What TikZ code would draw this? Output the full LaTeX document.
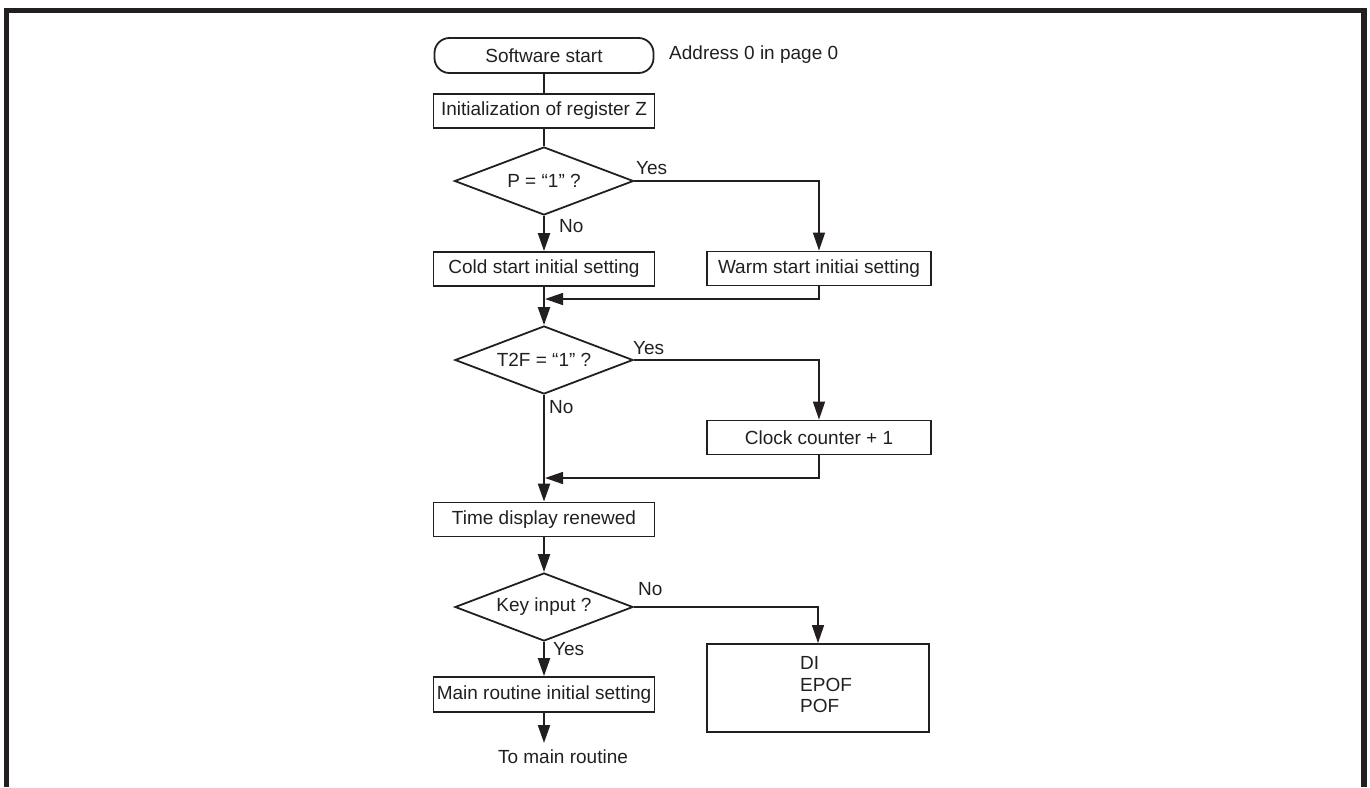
\documentclass[tikz,border=0pt]{standalone}
\usepackage{fontspec}
\setmainfont{Liberation Sans}
\usetikzlibrary{arrows.meta,shapes.geometric}
\definecolor{ink}{RGB}{35,31,32}

\begin{document}
\begin{tikzpicture}[x=1pt,y=-1pt,>={Triangle[width=12pt,length=18pt]},line join=miter,
  every node/.style={font=\fontsize{19}{21.5}\selectfont,text=ink},
  procbox/.style={draw=ink,line width=1.8pt,minimum width=221pt,minimum height=34pt,inner sep=0pt},
  decbox/.style={draw=ink,line width=1.8pt,diamond,shape aspect=2.6,minimum width=178pt,minimum height=68pt,inner sep=0pt},
  flow/.style={draw=ink,line width=2.2pt,->},
  plain/.style={draw=ink,line width=1.8pt},
  branch/.style={draw=ink,line width=1.5pt,->},
  lbl/.style={inner sep=0pt,anchor=west}]
\useasboundingbox (0,0) rectangle (1370,787);
% frame, open at the bottom
\draw[ink,line width=5.5pt] (6.5,787) -- (6.5,10.3) -- (1364.2,10.3) -- (1364.2,787);

% main column
\node[procbox,rounded corners=15pt,minimum width=219pt,minimum height=35pt] (start) at (544,55.5) {Software start};
\node[lbl] (addr) at (669,55) {Address 0 in page 0};
\node[procbox] (initz) at (544,111) {Initialization of register Z};
\node[decbox,minimum width=179pt] (pdec) at (544,181) {P = “1” ?};
\node[procbox] (cold) at (544,269) {Cold start initial setting};
\node[decbox] (t2f) at (544,360) {T2F = “1” ?};
\node[procbox] (time) at (544,519.5) {Time display renewed};
\node[decbox] (key) at (544,607) {Key input ?};
\node[procbox,minimum height=35pt] (mainr) at (544,694.5) {Main routine initial setting};
\node[inner sep=0pt] (tomain) at (563,757) {To main routine};
\coordinate (tmtip) at (544,743);

% right column
\node[procbox,minimum width=224pt] (warm) at (819,268.5) {Warm start initiai setting};
\node[procbox,minimum width=224pt] (clock) at (819,437.5) {Clock counter + 1};
\node[procbox,minimum width=222pt,minimum height=88pt] (dibox) at (818,688) {};
\node[lbl,align=left] (ditext) at (800,685) {DI\\EPOF\\POF};
\coordinate (m1) at (545,299);
\coordinate (m2) at (545,478);

% labels
\node[lbl] (pyes) at (636,168) {Yes};
\node[lbl] (pno) at (559,226) {No};
\node[lbl] (tyes) at (633,348) {Yes};
\node[lbl] (tno) at (549,407) {No};
\node[lbl] (kno) at (638,589) {No};
\node[lbl] (kyes) at (553,649) {Yes};

% connectors
\draw[plain] (start) -- (initz);
\draw[plain] (initz) -- (pdec);
\draw[flow] (pdec) -- (cold);
\draw[branch] (pdec.east) -| (warm.north);
\draw[branch] (warm.south) |- (m1);
\draw[flow] (cold) -- (t2f);
\draw[branch] (t2f.east) -| (clock.north);
\draw[branch] (clock.south) |- (m2);
\draw[flow] (t2f) -- (time);
\draw[flow] (time) -- (key);
\draw[branch] (key.east) -| (dibox.north);
\draw[flow] (key) -- (mainr);
\draw[flow] (mainr) -- (tmtip);
\end{tikzpicture}
\end{document}
